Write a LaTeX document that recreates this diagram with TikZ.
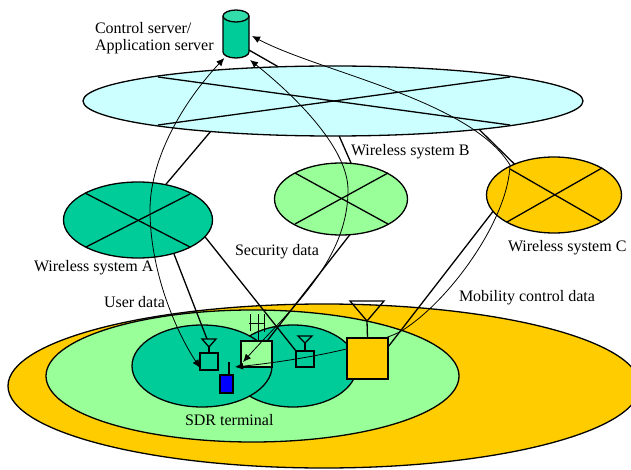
\documentclass[tikz,border=0pt]{standalone}
\usepackage{fontspec}
\setmainfont{Liberation Serif}
\usetikzlibrary{shapes.geometric,arrows.meta}
\definecolor{teal}{HTML}{00CC99}
\definecolor{tealtop}{HTML}{33DDAA}
\definecolor{lgreen}{HTML}{99FF99}
\definecolor{gold}{HTML}{FFCC00}
\definecolor{lcyan}{HTML}{CCFFFF}
\definecolor{pureblue}{HTML}{0000FF}
\tikzset{
  region/.style={ellipse,draw=black,line width=1.3pt,inner sep=0pt,outer sep=0pt},
  boxn/.style={rectangle,draw=black,line width=1.3pt,inner sep=0pt,outer sep=0pt},
  wire/.style={line width=1.3pt},
  cross/.style={line width=1.3pt},
  radio/.style={draw=black,line width=1.3pt},
  flow/.style={line width=0.8pt,{Latex[length=8pt,width=7pt]}-{Latex[length=8pt,width=7pt]}},
  lbl/.style={inner sep=0pt,outer sep=0pt,anchor=west,font=\fontsize{16}{18}\selectfont}
}
\begin{document}
\begin{tikzpicture}[x=1pt,y=-1pt]
\useasboundingbox (0,0) rectangle (631,470);
\clip (0,0) rectangle (631,470);
% coverage areas
\node[region,fill=gold,minimum width=632pt,minimum height=164pt] (cover) at (324,386) {};
\node[region,fill=lgreen,minimum width=413pt,minimum height=132pt] (cell) at (252.5,376) {};
\node[region,fill=teal,minimum width=128pt,minimum height=82pt] (cellR) at (293,366) {};
\node[region,fill=teal,minimum width=140pt,minimum height=82pt] (cellL) at (202,366) {};
% server
\node[rectangle,inner sep=0pt,outer sep=0pt,minimum width=26pt,minimum height=48pt] (srv) at (236,34) {};
\fill[teal] (223,16) -- (223,52) arc[start angle=180,end angle=360,x radius=13pt,y radius=6pt] -- (249,16) -- cycle;
\draw[line width=1.3pt] (223,16) -- (223,52) arc[start angle=180,end angle=360,x radius=13pt,y radius=6pt] -- (249,16);
\draw[line width=1.3pt,fill=tealtop] (236,16) ellipse[x radius=13pt,y radius=6pt];
% networks
\node[region,fill=lcyan,minimum width=500pt,minimum height=70pt] (core) at (333,101) {};
\node[region,fill=teal,minimum width=149pt,minimum height=76pt] (sysA) at (138,220) {};
\node[region,fill=lgreen,minimum width=133pt,minimum height=72pt] (sysB) at (341,199) {};
\node[region,fill=gold,minimum width=135pt,minimum height=76pt] (sysC) at (554,195) {};
% crosses
\coordinate (c1) at (158,77); \coordinate (c2) at (510,125);
\coordinate (c3) at (158,125); \coordinate (c4) at (510,77);
\draw[cross] (c1) -- (c2); \draw[cross] (c3) -- (c4);
\coordinate (a1) at (85,193); \coordinate (a2) at (190,247);
\coordinate (a3) at (86,247); \coordinate (a4) at (190,194);
\draw[cross] (a1) -- (a2); \draw[cross] (a3) -- (a4);
\coordinate (b1) at (295,173); \coordinate (b2) at (388,224);
\coordinate (b3) at (295,224); \coordinate (b4) at (388,173);
\draw[cross] (b1) -- (b2); \draw[cross] (b3) -- (b4);
\coordinate (d1) at (510,169); \coordinate (d2) at (602,222);
\coordinate (d3) at (507,222); \coordinate (d4) at (602,168);
\draw[cross] (d1) -- (d2); \draw[cross] (d3) -- (d4);
% antennas (coordinates)
\coordinate (ant1) at (209,347); \coordinate (ant1l) at (202,339); \coordinate (ant1r) at (216,339);
\coordinate (ant3) at (305,343); \coordinate (ant3l) at (298,336); \coordinate (ant3r) at (312,336);
\coordinate (ant4) at (367,321); \coordinate (ant4l) at (350,301); \coordinate (ant4r) at (384,301);
\coordinate (ant1top) at (207,339);
% terminal boxes
\node[boxn,fill=teal,minimum width=18pt,minimum height=17pt] (box1) at (209,361.5) {};
\node[boxn,fill=teal,minimum width=18pt,minimum height=16pt] (box3) at (305,359) {};
\node[boxn,fill=pureblue,minimum width=13pt,minimum height=18pt] (term) at (226.5,384) {};
% wired links
\draw[wire] (srv.-51) -- (core.148);
\draw[wire] (sysA.52) -- (core.194);
\draw[wire] (sysB.74.5) -- (core.280);
\draw[wire] (sysC.142) -- (core.349);
\draw[wire] (sysA.-43) -- (ant1top);
\draw[wire] (sysA.-14) -- (box3.north west);
\node[boxn,fill=lgreen,minimum width=31pt,minimum height=26pt] (box2) at (256.5,354) {};
\draw[wire] (sysB.-76) -- (box2.51);
\draw[radio] (ant1l) -- (ant1r) -- (ant1) -- cycle;
\draw[radio] (ant1) -- (box1.north);
\draw[radio] (ant3l) -- (ant3r) -- (ant3) -- cycle;
\draw[radio] (ant3) -- (box3.north);
\coordinate (termtop) at (229,362);
\coordinate (termbase) at (229,375);
\draw[radio] (termtop) -- (termbase);
% multi-element antenna
\coordinate (h1) at (250,314); \coordinate (h1b) at (250,331);
\coordinate (h2) at (258,314); \coordinate (h2b) at (258,341);
\coordinate (h3) at (264,314); \coordinate (h3b) at (264,332);
\coordinate (hl) at (249,323); \coordinate (hr) at (265,323);
\draw[line width=1pt] (h1) -- (h1b) (h2) -- (h2b) (h3) -- (h3b) (hl) -- (hr);
% data flows
\coordinate (secS) at (250,60);
\coordinate (secT) at (243,362);
\coordinate (mobS) at (252,36);
\coordinate (mobT) at (235,367);
\draw[flow] (srv.244) .. controls (176,110) and (150,165) .. (150,210)
   .. controls (150,270) and (175,330) .. (box1.215);
\draw[flow] (secS) .. controls (300,100) and (348,150) .. (348,190)
   .. controls (348,260) and (290,310) .. (secT);
\draw[flow] (mobS) .. controls (320,72) and (470,100) .. (510,165)
   .. controls (508,220) and (450,300) .. (403,330)
   .. controls (385,341.5) and (320,358) .. (mobT);
% base station C
\coordinate (c4link) at (388,347);
\draw[wire] (sysC.195.6) -- (c4link);
\node[boxn,fill=gold,minimum width=41pt,minimum height=41pt] (box4) at (367.5,358.5) {};
\draw[radio] (ant4l) -- (ant4r) -- (ant4) -- cycle;
\draw[radio] (ant4) -- (box4.north);
% labels
\node[lbl] (l1) at (95,28) {Control server/};
\node[lbl] (l2) at (95,47) {Application server};
\node[lbl] (l3) at (351,152) {Wireless system B};
\node[lbl] (l4) at (508,248) {Wireless system C};
\node[lbl] (l5) at (235,252) {Security data};
\node[lbl] (l6) at (34,268) {Wireless system A};
\node[lbl] (l7) at (104,302) {User data};
\node[lbl] (l8) at (459,298) {Mobility control data};
\node[lbl] (l9) at (185,420) {SDR terminal};
\end{tikzpicture}
\end{document}
